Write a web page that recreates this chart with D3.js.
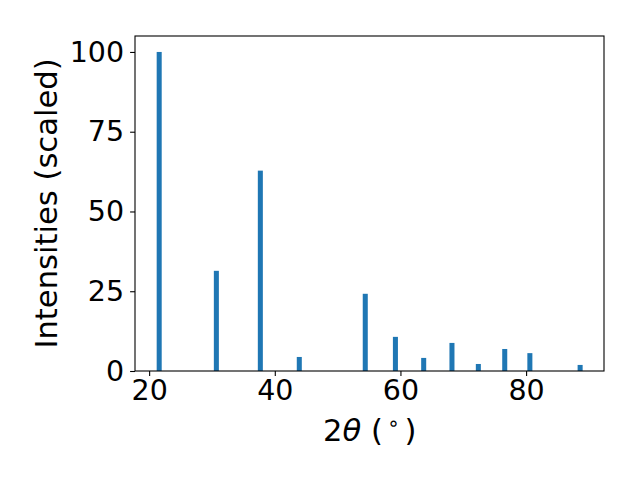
<!DOCTYPE html>
<html><head><meta charset="utf-8">
<script src="https://cdn.jsdelivr.net/npm/d3@7/dist/d3.min.js"></script>
<style>body{margin:0;background:#fff}svg{display:block}</style>
</head><body>
<script>
const twoTheta = [21.6, 30.7, 37.7, 43.9, 54.4, 59.2, 63.7, 68.2, 72.4, 76.6, 80.6, 88.6];
const intensities = [100, 31.4, 62.8, 4.4, 24.2, 10.7, 4.1, 8.8, 2.2, 6.9, 5.6, 1.9];
const xTicks = [20, 40, 60, 80];
const yTicks = [0, 25, 50, 75, 100];
const barWidth = 0.8;

const W = 640, H = 480;
const L = 135, R = 604, T = 36, B = 371;
const svg = d3.select("body").append("svg").attr("width", W).attr("height", H);
const x = d3.scaleLinear().domain([17.75, 92.4]).range([L, R]);
const y = d3.scaleLinear().domain([0, 105]).range([B, T]);

svg.append("g").selectAll("rect").data(twoTheta).join("rect")
  .attr("x", (d) => x(d - barWidth / 2))
  .attr("width", (d) => x(d + barWidth / 2) - x(d - barWidth / 2))
  .attr("y", (d, i) => y(intensities[i]))
  .attr("height", (d, i) => y(0) - y(intensities[i]))
  .attr("fill", "#1f77b4");

const font = "'DejaVu Sans', sans-serif";
const xAxis = svg.append("g").attr("transform", `translate(0,${B})`)
  .call(d3.axisBottom(x).tickValues(xTicks).tickSize(4.9).tickPadding(4).tickFormat(d3.format("d")));
const yAxis = svg.append("g").attr("transform", `translate(${L},0)`)
  .call(d3.axisLeft(y).tickValues(yTicks).tickSize(4.9).tickPadding(6).tickFormat(d3.format("d")));
[xAxis, yAxis].forEach(g => {
  g.select(".domain").remove();
  g.selectAll("line").attr("stroke", "#000").attr("stroke-width", 1.1);
  g.selectAll("text").attr("font-family", font).attr("font-size", 28.5).attr("fill", "#000");
});

svg.append("rect").attr("x", L).attr("y", T).attr("width", R - L).attr("height", B - T)
  .attr("fill", "none").attr("stroke", "#000").attr("stroke-width", 1.1);

svg.append("text").attr("transform", `translate(57,${(T + B) / 2}) rotate(-90)`)
  .attr("text-anchor", "middle").attr("font-family", font).attr("font-size", 30.6)
  .text("Intensities (scaled)");

const xl = svg.append("g").attr("font-family", font).attr("font-size", 30.6).attr("fill", "#000");
const t1 = xl.append("text").attr("x", 323).attr("y", 441);
t1.append("tspan").text("2");
t1.append("tspan").attr("font-style", "italic").text("θ");
xl.append("text").attr("x", 371).attr("y", 441).text("(");
xl.append("text").attr("x", 393.5).attr("y", 430).attr("text-anchor", "middle")
  .attr("font-size", 20).text("∘");
xl.append("text").attr("x", 404.5).attr("y", 441).text(")");
</script>
</body></html>
